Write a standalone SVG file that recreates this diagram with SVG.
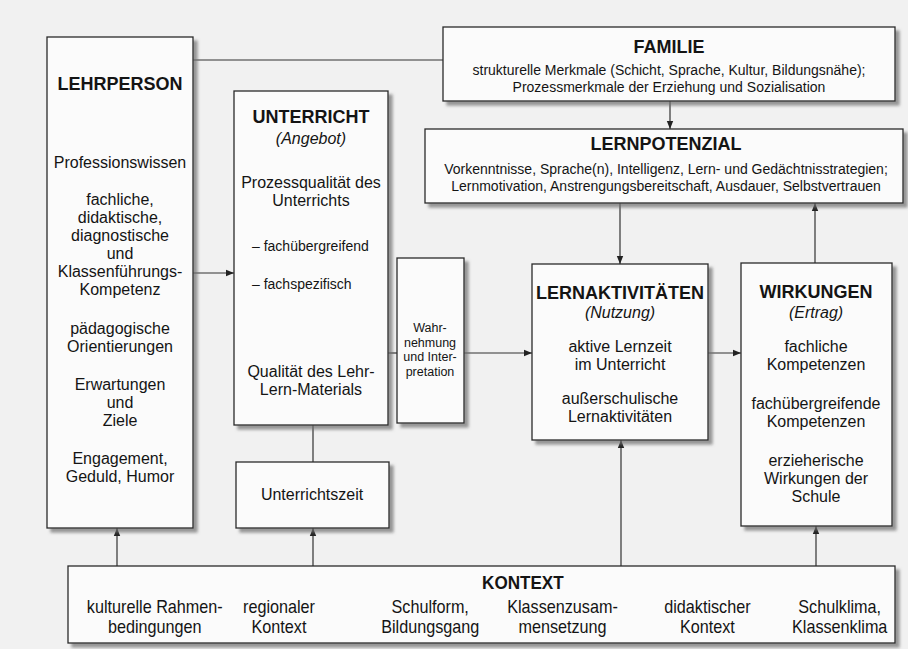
<svg xmlns="http://www.w3.org/2000/svg" width="908" height="649" viewBox="0 0 908 649">
<defs>
<filter id="sh" x="-10%" y="-10%" width="130%" height="130%">
<feDropShadow dx="4" dy="4" stdDeviation="1.6" flood-color="#6e6e6e" flood-opacity="0.7"/>
</filter>
<marker id="ah" viewBox="0 0 10 10" refX="10" refY="5" markerWidth="8" markerHeight="8" markerUnits="userSpaceOnUse" orient="auto">
<path d="M0,1 L10,5 L0,9 z" fill="#222"/>
</marker>
<style>
.box{fill:#fbfbfb;stroke:#2a2a2a;stroke-width:1.3;filter:url(#sh)}
text{font-family:"Liberation Sans",Arial,sans-serif;fill:#141414;text-anchor:middle}
.t{font-size:18px;font-weight:bold}
.b{font-size:16px}
.s{font-size:14px}
.xs{font-size:12.5px}
.i{font-size:16px;font-style:italic}
.l{text-anchor:start}
.c{stroke:#333;stroke-width:1.2;fill:none}
.a{marker-end:url(#ah)}
.k{font-size:18px}
.kt{font-size:19px;font-weight:bold}
</style>
</defs>
<rect x="0" y="0" width="908" height="649" fill="#f1f1f1"/>

<g id="connectors">
<path class="c" d="M193,60 H443"/>
<path class="c a" d="M193,273 H234"/>
<path class="c" d="M388,353 H397"/>
<path class="c a" d="M464,353 H532"/>
<path class="c a" d="M708,353 H741"/>
<path class="c" d="M313,425 V462"/>
<path class="c a" d="M670,101 V129"/>
<path class="c a" d="M620,203 V264"/>
<path class="c a" d="M815,263 V203"/>
<path class="c a" d="M117,566 V528"/>
<path class="c a" d="M313,566 V528"/>
<path class="c a" d="M621,566 V440"/>
<path class="c a" d="M816,566 V526"/>
</g>

<g id="lehrperson">
<rect class="box" x="47" y="37" width="146" height="491"/>
<text class="t" x="120" y="90">LEHRPERSON</text>
<text class="b" x="120" y="168">Professionswissen</text>
<text class="b" x="120" y="205">fachliche,</text>
<text class="b" x="120" y="223">didaktische,</text>
<text class="b" x="120" y="241">diagnostische</text>
<text class="b" x="120" y="259">und</text>
<text class="b" x="120" y="277">Klassenführungs-</text>
<text class="b" x="120" y="295">Kompetenz</text>
<text class="b" x="120" y="334">pädagogische</text>
<text class="b" x="120" y="352">Orientierungen</text>
<text class="b" x="120" y="390">Erwartungen</text>
<text class="b" x="120" y="408">und</text>
<text class="b" x="120" y="426">Ziele</text>
<text class="b" x="120" y="464">Engagement,</text>
<text class="b" x="120" y="482">Geduld, Humor</text>
</g>

<g id="unterricht">
<rect class="box" x="234" y="91" width="154" height="334"/>
<text class="t" x="311" y="123">UNTERRICHT</text>
<text class="i" x="311" y="144">(Angebot)</text>
<text class="b" x="311" y="188">Prozessqualität des</text>
<text class="b" x="311" y="206">Unterrichts</text>
<text class="s l" x="252" y="251">– fachübergreifend</text>
<text class="s l" x="252" y="289">– fachspezifisch</text>
<text class="b" x="311" y="377">Qualität des Lehr-</text>
<text class="b" x="311" y="395">Lern-Materials</text>
</g>

<g id="unterrichtszeit">
<rect class="box" x="236" y="462" width="153" height="66"/>
<text class="b" x="312" y="500">Unterrichtszeit</text>
</g>

<g id="wahrnehmung">
<rect class="box" x="397" y="258" width="67" height="165"/>
<text class="xs" x="430" y="332">Wahr-</text>
<text class="xs" x="430" y="346.5">nehmung</text>
<text class="xs" x="430" y="361">und Inter-</text>
<text class="xs" x="430" y="375.5">pretation</text>
</g>

<g id="familie">
<rect class="box" x="443" y="27" width="452" height="74"/>
<text class="t" x="669" y="53">FAMILIE</text>
<text class="s" x="669" y="75">strukturelle Merkmale (Schicht, Sprache, Kultur, Bildungsnähe);</text>
<text class="s" x="669" y="92">Prozessmerkmale der Erziehung und Sozialisation</text>
</g>

<g id="lernpotenzial">
<rect class="box" x="425" y="129" width="478" height="74"/>
<text class="t" x="666" y="150">LERNPOTENZIAL</text>
<text class="s" x="666" y="174">Vorkenntnisse, Sprache(n), Intelligenz, Lern- und Gedächtnisstrategien;</text>
<text class="s" x="666" y="191">Lernmotivation, Anstrengungsbereitschaft, Ausdauer, Selbstvertrauen</text>
</g>

<g id="lernaktivitaeten">
<rect class="box" x="532" y="264" width="176" height="176"/>
<text class="t" x="620" y="299">LERNAKTIVITÄTEN</text>
<text class="i" x="620" y="318">(Nutzung)</text>
<text class="b" x="620" y="352">aktive Lernzeit</text>
<text class="b" x="620" y="370">im Unterricht</text>
<text class="b" x="620" y="404">außerschulische</text>
<text class="b" x="620" y="422">Lernaktivitäten</text>
</g>

<g id="wirkungen">
<rect class="box" x="741" y="263" width="151" height="263"/>
<text class="t" x="816" y="298">WIRKUNGEN</text>
<text class="i" x="816" y="318">(Ertrag)</text>
<text class="b" x="816" y="352">fachliche</text>
<text class="b" x="816" y="370">Kompetenzen</text>
<text class="b" x="816" y="409">fachübergreifende</text>
<text class="b" x="816" y="427">Kompetenzen</text>
<text class="b" x="816" y="466">erzieherische</text>
<text class="b" x="816" y="484">Wirkungen der</text>
<text class="b" x="816" y="502">Schule</text>
</g>

<g id="kontext">
<rect class="box" x="68" y="566" width="827" height="77"/>
<g transform="scale(0.9,1)">
<text class="kt" x="581" y="589">KONTEXT</text>
<text class="k" x="172" y="613">kulturelle Rahmen-</text>
<text class="k" x="172" y="633">bedingungen</text>
<text class="k" x="310" y="613">regionaler</text>
<text class="k" x="310" y="633">Kontext</text>
<text class="k" x="478" y="613">Schulform,</text>
<text class="k" x="478" y="633">Bildungsgang</text>
<text class="k" x="625" y="613">Klassenzusam-</text>
<text class="k" x="625" y="633">mensetzung</text>
<text class="k" x="786" y="613">didaktischer</text>
<text class="k" x="786" y="633">Kontext</text>
<text class="k" x="933" y="613">Schulklima,</text>
<text class="k" x="933" y="633">Klassenklima</text>
</g>
</g>
</svg>
